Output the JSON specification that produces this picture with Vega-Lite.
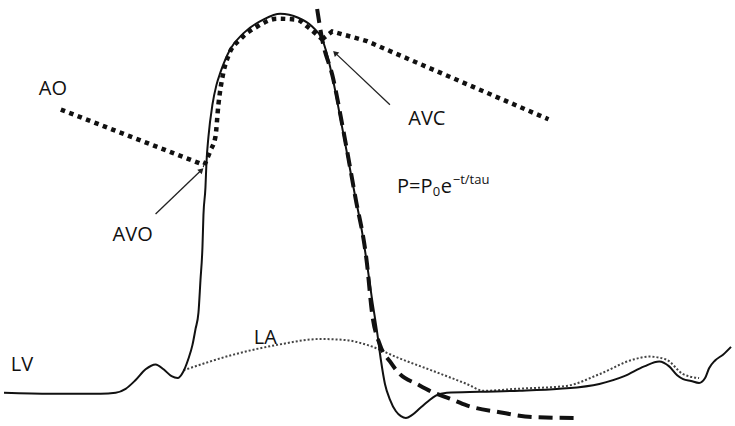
{
  "$schema": "https://vega.github.io/schema/vega-lite/v6.json",
  "width": 735,
  "height": 426,
  "autosize": {"type": "fit", "contains": "padding"},
  "padding": 0,
  "background": "white",
  "config": {"view": {"stroke": null}, "axis": {"disable": true}},
  "datasets": {
    "curves": [
      {"s":"LV","t":3,"p":31},{"s":"LV","t":50,"p":30},{"s":"LV","t":100,"p":30},{"s":"LV","t":115,"p":31},{"s":"LV","t":125,"p":35},{"s":"LV","t":135,"p":44},{"s":"LV","t":145,"p":55},{"s":"LV","t":155,"p":60},{"s":"LV","t":163,"p":55},{"s":"LV","t":171,"p":48},{"s":"LV","t":177,"p":46},{"s":"LV","t":183,"p":53},{"s":"LV","t":188,"p":66},{"s":"LV","t":192,"p":80},{"s":"LV","t":195,"p":96},{"s":"LV","t":198,"p":113},{"s":"LV","t":200,"p":146},{"s":"LV","t":202,"p":180},{"s":"LV","t":203,"p":213},{"s":"LV","t":205,"p":241},{"s":"LV","t":206,"p":266},{"s":"LV","t":208,"p":293},{"s":"LV","t":212,"p":326},{"s":"LV","t":216,"p":346},{"s":"LV","t":220,"p":359},{"s":"LV","t":230,"p":383},{"s":"LV","t":243,"p":399},{"s":"LV","t":263,"p":413},{"s":"LV","t":280,"p":419},{"s":"LV","t":298,"p":415},{"s":"LV","t":312,"p":406},{"s":"LV","t":322,"p":393},{"s":"LV","t":326,"p":381},{"s":"LV","t":333,"p":351},{"s":"LV","t":340,"p":314},{"s":"LV","t":347,"p":276},{"s":"LV","t":355,"p":233},{"s":"LV","t":362,"p":196},{"s":"LV","t":367,"p":163},{"s":"LV","t":372,"p":127},{"s":"LV","t":377,"p":94},{"s":"LV","t":381,"p":64},{"s":"LV","t":385,"p":40},{"s":"LV","t":390,"p":24},{"s":"LV","t":396,"p":12},{"s":"LV","t":401,"p":7},{"s":"LV","t":406,"p":5},{"s":"LV","t":412,"p":8},{"s":"LV","t":420,"p":15},{"s":"LV","t":428,"p":22},{"s":"LV","t":436,"p":28},{"s":"LV","t":447,"p":31},{"s":"LV","t":480,"p":32},{"s":"LV","t":520,"p":33},{"s":"LV","t":560,"p":35},{"s":"LV","t":600,"p":40},{"s":"LV","t":625,"p":48},{"s":"LV","t":645,"p":58},{"s":"LV","t":660,"p":63},{"s":"LV","t":670,"p":58},{"s":"LV","t":678,"p":49},{"s":"LV","t":684,"p":45},{"s":"LV","t":692,"p":43},{"s":"LV","t":700,"p":41},{"s":"LV","t":706,"p":46},{"s":"LV","t":710,"p":56},{"s":"LV","t":716,"p":64},{"s":"LV","t":724,"p":70},{"s":"LV","t":732,"p":78},
      {"s":"TAU","t":317,"p":424},{"s":"TAU","t":322,"p":393},{"s":"TAU","t":333,"p":353},{"s":"TAU","t":343,"p":301},{"s":"TAU","t":355,"p":233},{"s":"TAU","t":367,"p":163},{"s":"TAU","t":372,"p":113},{"s":"TAU","t":380,"p":80},{"s":"TAU","t":390,"p":63},{"s":"TAU","t":400,"p":50},{"s":"TAU","t":417,"p":40},{"s":"TAU","t":434,"p":31},{"s":"TAU","t":450,"p":25},{"s":"TAU","t":467,"p":18},{"s":"TAU","t":500,"p":11},{"s":"TAU","t":534,"p":6},{"s":"TAU","t":580,"p":5},
      {"s":"AO1","t":60,"p":321},{"s":"AO1","t":204,"p":264},
      {"s":"AO2","t":204,"p":264},{"s":"AO2","t":210,"p":279},{"s":"AO2","t":215,"p":293},{"s":"AO2","t":218,"p":326},{"s":"AO2","t":223,"p":359},{"s":"AO2","t":228,"p":376},{"s":"AO2","t":240,"p":393},{"s":"AO2","t":257,"p":406},{"s":"AO2","t":277,"p":414},{"s":"AO2","t":297,"p":413},{"s":"AO2","t":307,"p":406},{"s":"AO2","t":322,"p":393},
      {"s":"AO3","t":322,"p":393},{"s":"AO3","t":332,"p":401},{"s":"AO3","t":367,"p":391},{"s":"AO3","t":549,"p":311},
      {"s":"LA","t":183,"p":54},{"s":"LA","t":233,"p":70},{"s":"LA","t":277,"p":80},{"s":"LA","t":320,"p":86},{"s":"LA","t":345,"p":85},{"s":"LA","t":367,"p":80},{"s":"LA","t":400,"p":66},{"s":"LA","t":434,"p":53},{"s":"LA","t":467,"p":40},{"s":"LA","t":484,"p":33},{"s":"LA","t":517,"p":35},{"s":"LA","t":567,"p":38},{"s":"LA","t":600,"p":50},{"s":"LA","t":634,"p":65},{"s":"LA","t":650,"p":68},{"s":"LA","t":667,"p":65},{"s":"LA","t":684,"p":50},{"s":"LA","t":700,"p":46}
    ],
    "arrows": [
      {"name":"AVO","t":155,"p":214,"t2":201,"p2":259,"ang":45},
      {"name":"AVC","t":390,"p":326,"t2":335,"p2":379,"ang":315}
    ],
    "labels": [
      {"label":"AO","t":52,"p":342},
      {"label":"AVC","t":427,"p":311},
      {"label":"AVO","t":132,"p":193},
      {"label":"LV","t":21,"p":59},
      {"label":"LA","t":265,"p":87}
    ],
    "eq": [
      {"role":"main","txt":"P=P","t":397,"p":236},
      {"role":"sub","txt":"0","t":433,"p":232},
      {"role":"main","txt":"e","t":441,"p":236},
      {"role":"sup","txt":"−t/tau","t":453,"p":245}
    ]
  },
  "encoding": {
    "x": {"field":"t","type":"quantitative","scale":{"domain":[0,735],"nice":false,"zero":false}},
    "y": {"field":"p","type":"quantitative","scale":{"domain":[0,426],"nice":false,"zero":false}}
  },
  "layer": [
    {
      "data": {"name":"curves"},
      "transform": [{"filter":"datum.s === 'LA'"}],
      "mark": {"type":"line","interpolate":"monotone","stroke":"#444","strokeWidth":2,"strokeDash":[2,2]}
    },
    {
      "data": {"name":"curves"},
      "transform": [{"filter":"datum.s === 'AO1' || datum.s === 'AO3'"}],
      "mark": {"type":"line","interpolate":"linear","stroke":"#111","strokeWidth":4.5,"strokeDash":[4.5,4.5]},
      "encoding": {"detail":{"field":"s"}}
    },
    {
      "data": {"name":"curves"},
      "transform": [{"filter":"datum.s === 'AO2'"}],
      "mark": {"type":"line","interpolate":"monotone","stroke":"#111","strokeWidth":4.5,"strokeDash":[4.5,4.5]}
    },
    {
      "data": {"name":"curves"},
      "transform": [{"filter":"datum.s === 'LV'"}],
      "mark": {"type":"line","interpolate":"monotone","stroke":"#111","strokeWidth":2}
    },
    {
      "data": {"name":"curves"},
      "transform": [{"filter":"datum.s === 'TAU'"}],
      "mark": {"type":"line","interpolate":"monotone","stroke":"#111","strokeWidth":4,"strokeDash":[14,7]}
    },
    {
      "data": {"name":"arrows"},
      "mark": {"type":"rule","stroke":"#222","strokeWidth":1.3},
      "encoding": {"x2":{"field":"t2"},"y2":{"field":"p2"}}
    },
    {
      "data": {"name":"arrows"},
      "mark": {"type":"point","shape":"triangle-up","filled":true,"color":"#222","size":40,"opacity":1},
      "encoding": {
        "x":{"field":"t2","type":"quantitative"},
        "y":{"field":"p2","type":"quantitative"},
        "angle":{"field":"ang","type":"quantitative","scale":null}
      }
    },
    {
      "data": {"name":"labels"},
      "mark": {"type":"text","font":"Open Sans","fontSize":20,"color":"#111","align":"center","baseline":"middle"},
      "encoding": {"text":{"field":"label"}}
    },
    {
      "data": {"name":"eq"},
      "transform": [{"filter":"datum.role === 'main'"}],
      "mark": {"type":"text","font":"Open Sans","fontSize":20,"color":"#111","align":"left","baseline":"alphabetic"},
      "encoding": {"text":{"field":"txt"}}
    },
    {
      "data": {"name":"eq"},
      "transform": [{"filter":"datum.role === 'sub'"}],
      "mark": {"type":"text","font":"Open Sans","fontSize":13,"color":"#111","align":"left","baseline":"alphabetic"},
      "encoding": {"text":{"field":"txt"}}
    },
    {
      "data": {"name":"eq"},
      "transform": [{"filter":"datum.role === 'sup'"}],
      "mark": {"type":"text","font":"Open Sans","fontSize":13,"color":"#111","align":"left","baseline":"alphabetic"},
      "encoding": {"text":{"field":"txt"}}
    }
  ]
}
